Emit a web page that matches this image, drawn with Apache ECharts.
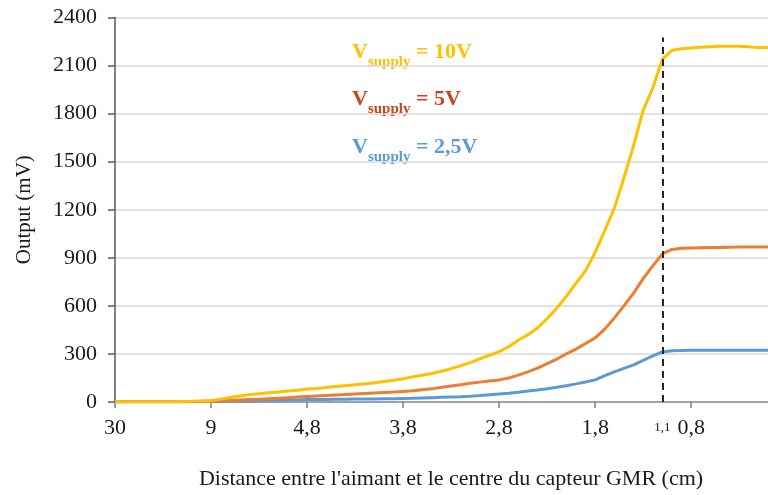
<!DOCTYPE html>
<html>
<head>
<meta charset="utf-8">
<script src="https://cdn.jsdelivr.net/npm/echarts@6/dist/echarts.min.js"></script>
<style>
  html, body { margin: 0; padding: 0; background: #fff; }
  #chart { width: 768px; height: 495px; }
</style>
</head>
<body>
<div id="chart"></div>
<script>
// Distance between magnet and GMR sensor centre (cm), one category per measurement
const distances = [
  '30', '27,9', '25,8', '23,7', '21,6', '19,5', '17,4', '15,3', '13,2', '11,1',
  '9', '8,58', '8,16', '7,74', '7,32', '6,9', '6,48', '6,06', '5,64', '5,22',
  '4,8', '4,7', '4,6', '4,5', '4,4', '4,3', '4,2', '4,1', '4', '3,9',
  '3,8', '3,7', '3,6', '3,5', '3,4', '3,3', '3,2', '3,1', '3', '2,9',
  '2,8', '2,7', '2,6', '2,5', '2,4', '2,3', '2,2', '2,1', '2', '1,9',
  '1,8', '1,7', '1,6', '1,5', '1,4', '1,3', '1,2', '1,1', '1', '0,9',
  '0,8', '0,7', '0,6', '0,5', '0,4', '0,3', '0,2', '0,1', '0'
];

// Sensor output (mV) for each supply voltage
const out10V = [
  2, 2, 2, 2, 2, 2, 2, 3, 4, 6,
  10, 18, 28, 38, 46, 52, 57, 62, 68, 74,
  81, 85, 90, 97, 102, 107, 113, 120, 128, 136,
  145, 157, 167, 178, 192, 208, 226, 246, 270, 292,
  314, 345, 385, 420, 462, 520, 585, 660, 740, 820,
  934, 1070, 1210, 1400, 1600, 1820, 1960, 2140, 2195, 2205,
  2210, 2215, 2218, 2220, 2220, 2220, 2218, 2212, 2212
];
const out5V = [
  2, 2, 2, 2, 2, 2, 2, 2, 3, 4,
  5, 8, 11, 13, 15, 17, 20, 23, 27, 31,
  35, 38, 41, 44, 47, 50, 53, 56, 59, 62,
  66, 70, 76, 82, 92, 100, 108, 117, 124, 131,
  138, 150, 168, 188, 212, 240, 268, 300, 330, 365,
  400, 455, 525, 600, 680, 770, 850, 924, 952, 960,
  962, 963, 964, 965, 966, 967, 968, 968, 968
];
const out2_5V = [
  1, 1, 1, 1, 1, 1, 1, 1, 2, 2,
  3, 4, 5, 6, 7, 8, 9, 10, 12, 13,
  15, 16, 16, 17, 17, 18, 18, 19, 20, 21,
  22, 23, 25, 27, 29, 31, 33, 36, 40, 45,
  50, 55, 61, 68, 75, 83, 92, 102, 113, 125,
  138, 165, 188, 210, 232, 260, 288, 312, 320, 322,
  323, 323, 323, 323, 323, 323, 323, 323, 323
];

const yTicks = { min: 0, max: 2400, interval: 300 };
const markedDistance = '1,1';
const markTop = 2275;

const serif = '"Liberation Serif", "Times New Roman", serif';
const lineStyle = (color) => ({ color, width: 3 });

const chart = echarts.init(document.getElementById('chart'));

// "V_supply = …" caption drawn with a subscript
const legendText = (top, color, tail) => ({
  type: 'text',
  left: 352,
  top,
  style: {
    text: '{v|V}{s|supply}{v| = ' + tail + '}',
    fill: color,
    rich: {
      v: { fontFamily: serif, fontSize: 22, fontWeight: 'bold', fill: color, lineHeight: 28, verticalAlign: 'bottom' },
      s: { fontFamily: serif, fontSize: 15, fontWeight: 'bold', fill: color, lineHeight: 28, verticalAlign: 'bottom', padding: [0, 0, -7, 0] }
    }
  }
});

chart.setOption({
  animation: false,
  grid: { left: 115, right: 0, top: 17.5, height: 386 },
  xAxis: {
    type: 'category',
    data: distances,
    boundaryGap: false,
    name: "Distance entre l'aimant et le centre du capteur GMR (cm)",
    nameLocation: 'middle',
    nameGap: 66,
    nameTextStyle: { fontFamily: serif, fontSize: 22, color: '#1a1a1a', padding: [0, 0, 0, 19] },
    axisLine: { lineStyle: { color: '#8c8c8c', width: 1.5 } },
    axisTick: { interval: 9, length: 6, lineStyle: { color: '#7f7f7f', width: 1.5 } },
    axisLabel: {
      interval: (idx) => (idx % 10 === 0 && idx <= 60) || idx === 57,
      margin: 15,
      fontFamily: serif,
      fontSize: 22,
      color: '#1a1a1a',
      formatter: (v) => (v === markedDistance ? '{s|' + v + '}' : v),
      rich: { s: { fontFamily: serif, fontSize: 13, color: '#1a1a1a', padding: [4, 0, 0, 0] } }
    },
    splitLine: { show: false }
  },
  yAxis: {
    type: 'value',
    min: yTicks.min,
    max: yTicks.max,
    interval: yTicks.interval,
    name: 'Output (mV)',
    nameLocation: 'middle',
    nameGap: 80,
    nameTextStyle: { fontFamily: serif, fontSize: 21, color: '#1a1a1a' },
    axisLine: { show: true, lineStyle: { color: '#595959', width: 1.5 } },
    axisTick: { show: true, length: 7, lineStyle: { color: '#595959', width: 1.5 } },
    axisLabel: { margin: 18, fontFamily: serif, fontSize: 22, color: '#1a1a1a', formatter: (v) => String(v) },
    splitLine: { lineStyle: { color: '#d9d9d9', width: 1.5 } }
  },
  series: [
    {
      name: 'Vsupply = 2,5V',
      type: 'line',
      data: out2_5V,
      symbol: 'none',
      lineStyle: lineStyle('#5b9bd5'),
      itemStyle: { color: '#5b9bd5' }
    },
    {
      name: 'Vsupply = 5V',
      type: 'line',
      data: out5V,
      symbol: 'none',
      lineStyle: lineStyle('#ed7d31'),
      itemStyle: { color: '#ed7d31' }
    },
    {
      name: 'Vsupply = 10V',
      type: 'line',
      data: out10V,
      symbol: 'none',
      z: 3,
      lineStyle: lineStyle('#ffc000'),
      itemStyle: { color: '#ffc000' },
      markLine: {
        silent: true,
        symbol: 'none',
        label: { show: false },
        lineStyle: { color: '#262626', type: [7, 5], width: 2 },
        data: [[{ coord: [markedDistance, 0] }, { coord: [markedDistance, markTop] }]]
      }
    }
  ],
  graphic: [
    legendText(41, '#ffc000', '10V'),
    legendText(88, '#cc4419', '5V'),
    legendText(136, '#5b9bd5', '2,5V')
  ]
});
</script>
</body>
</html>
